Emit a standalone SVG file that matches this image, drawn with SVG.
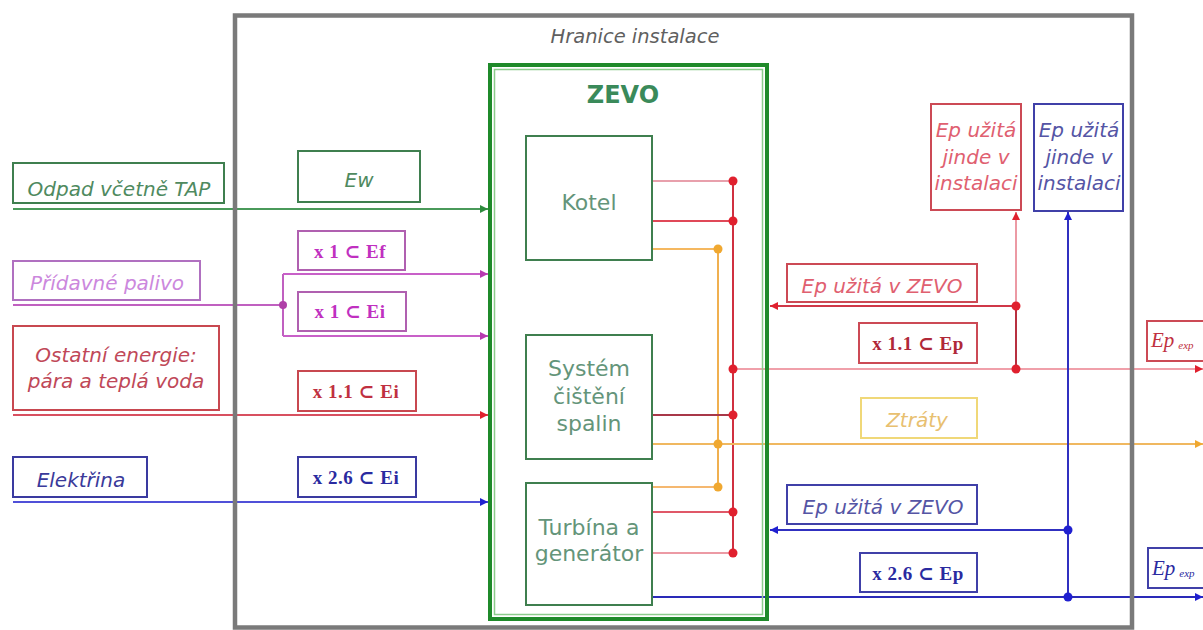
<svg xmlns="http://www.w3.org/2000/svg" width="1203" height="630" viewBox="0 0 1203 630">
<defs>
<marker id="aG" viewBox="0 0 10 10" refX="10" refY="5" markerWidth="9" markerHeight="8" markerUnits="userSpaceOnUse" orient="auto"><path d="M0,0 L10,5 L0,10 z" fill="#2e8b3e"/></marker>
<marker id="aM" viewBox="0 0 10 10" refX="10" refY="5" markerWidth="9" markerHeight="8" markerUnits="userSpaceOnUse" orient="auto"><path d="M0,0 L10,5 L0,10 z" fill="#b838b0"/></marker>
<marker id="aR" viewBox="0 0 10 10" refX="10" refY="5" markerWidth="9" markerHeight="8" markerUnits="userSpaceOnUse" orient="auto"><path d="M0,0 L10,5 L0,10 z" fill="#e0202e"/></marker>
<marker id="aB" viewBox="0 0 10 10" refX="10" refY="5" markerWidth="9" markerHeight="8" markerUnits="userSpaceOnUse" orient="auto"><path d="M0,0 L10,5 L0,10 z" fill="#2020d0"/></marker>
<marker id="aO" viewBox="0 0 10 10" refX="10" refY="5" markerWidth="9" markerHeight="8" markerUnits="userSpaceOnUse" orient="auto"><path d="M0,0 L10,5 L0,10 z" fill="#f0a830"/></marker>
</defs>
<style>
.box{fill:#fff;stroke-width:2}
.it{font-family:"DejaVu Sans",sans-serif;font-style:italic;font-size:20px;text-anchor:middle}
.sf{font-family:"Liberation Serif","DejaVu Serif",serif;font-weight:bold;font-size:19px;letter-spacing:0.5px;text-anchor:middle}
.lbl{font-family:"DejaVu Sans",sans-serif;font-size:22px;text-anchor:middle;fill:#64957a}
.ln{fill:none;stroke-width:2}
.ex{font-family:"Liberation Serif",serif;font-style:italic;font-size:21px}
.dR{fill:#e0202e}
.dO{fill:#f0a830}
.dB{fill:#2020d0}
</style>
<rect width="1203" height="630" fill="#fff"/>

<g id="connectors">
<path class="ln" d="M13,209 H488" stroke="#4a9a5a" marker-end="url(#aG)"/>
<path class="ln" d="M13,305 H283" stroke="#c060c0"/>
<path class="ln" d="M283,274 V336" stroke="#c060c0"/>
<path class="ln" d="M283,274 H488" stroke="#c860c8" marker-end="url(#aM)"/>
<path class="ln" d="M283,336 H488" stroke="#c860c8" marker-end="url(#aM)"/>
<path class="ln" d="M13,415 H488" stroke="#d85060" marker-end="url(#aR)"/>
<path class="ln" d="M13,502 H488" stroke="#5050d8" marker-end="url(#aB)"/>

<path class="ln" d="M652,181 H733" stroke="#e8a0ac" stroke-width="2.5"/>
<path class="ln" d="M652,221 H733" stroke="#e04858"/>
<path class="ln" d="M652,249 H718" stroke="#f5b860"/>
<path class="ln" d="M733,181 V553" stroke="#d03040"/>
<path class="ln" d="M718,249 V487" stroke="#f0b050"/>
<path class="ln" d="M733,369 H1203" stroke="#f0a0aa" stroke-width="2.5" marker-end="url(#aR)"/>
<path class="ln" d="M648,415 H733" stroke="#a83848"/>
<path class="ln" d="M652,444 H1203" stroke="#f0b860" marker-end="url(#aO)"/>
<path class="ln" d="M652,487 H718" stroke="#f5b870"/>
<path class="ln" d="M652,512 H733" stroke="#e05868"/>
<path class="ln" d="M652,553 H733" stroke="#ec9aa4"/>
<path class="ln" d="M650,597 H1203" stroke="#2a2ab8" marker-end="url(#aB)"/>
<path class="ln" d="M1016,306 H770" stroke="#d03848" marker-end="url(#aR)"/>
<path class="ln" d="M1016,369 V306" stroke="#b83040"/>
<path class="ln" d="M1016,306 V212" stroke="#ec9aa4" marker-end="url(#aR)"/>
<path class="ln" d="M1068,597 V212" stroke="#3030c0" marker-end="url(#aB)"/>
<path class="ln" d="M1068,530 H770" stroke="#3030c0" marker-end="url(#aB)"/>

<circle class="dR" cx="733" cy="181" r="4.5"/>
<circle class="dR" cx="733" cy="221" r="4.5"/>
<circle class="dR" cx="733" cy="369" r="4.5"/>
<circle class="dR" cx="733" cy="415" r="4.5"/>
<circle class="dR" cx="733" cy="512" r="4.5"/>
<circle class="dR" cx="733" cy="553" r="4.5"/>
<circle class="dR" cx="1016" cy="306" r="4.5"/>
<circle class="dR" cx="1016" cy="369" r="4.5"/>
<circle class="dO" cx="718" cy="249" r="4.5"/>
<circle class="dO" cx="718" cy="444" r="4.5"/>
<circle class="dO" cx="718" cy="487" r="4.5"/>
<circle class="dB" cx="1068" cy="530" r="4.5"/>
<circle class="dB" cx="1068" cy="597" r="4.5"/>
<circle cx="283" cy="305" r="4" fill="#b040a8"/>
</g>

<g id="hranice">
<rect x="235" y="15.5" width="897" height="612" fill="none" stroke="#7a7a7a" stroke-width="4.5"/>
<text x="635" y="43" font-family="DejaVu Sans, sans-serif" font-style="italic" font-size="19.5" fill="#606060" text-anchor="middle">Hranice instalace</text>
</g>

<g id="zevo">
<rect x="490" y="65" width="277" height="554" fill="none" stroke="#1f8a2a" stroke-width="4"/>
<rect x="494.5" y="69.5" width="268" height="545" fill="none" stroke="#8ccc8c" stroke-width="1.5"/>
<text x="623" y="103" font-family="DejaVu Sans, sans-serif" font-weight="bold" font-size="24" fill="#3a8a5a" text-anchor="middle">ZEVO</text>
</g>

<g id="kotel">
<rect class="box" x="526" y="136" width="126" height="124" stroke="#3f7f4f"/>
<text class="lbl" x="589" y="210">Kotel</text>
</g>
<g id="system">
<rect class="box" x="526" y="335" width="126" height="124" stroke="#3f7f4f"/>
<text class="lbl" x="589" y="376">Systém</text>
<text class="lbl" x="589" y="404">čištění</text>
<text class="lbl" x="589" y="431">spalin</text>
</g>
<g id="turbina">
<rect class="box" x="526" y="483" width="126" height="122" stroke="#3f7f4f"/>
<text class="lbl" x="589" y="535">Turbína a</text>
<text class="lbl" x="589" y="561">generátor</text>
</g>

<g id="odpad">
<rect class="box" x="13" y="163" width="211" height="40" stroke="#3f7f4f"/>
<text class="it" x="119" y="196" fill="#4f8a5f">Odpad včetně TAP</text>
</g>
<g id="ew">
<rect class="box" x="298" y="151" width="122" height="51" stroke="#3f7f4f"/>
<text class="it" x="359" y="187" fill="#4f8a5f">Ew</text>
</g>
<g id="ef">
<rect class="box" x="298" y="231" width="107" height="39" stroke="#b060b0"/>
<text class="sf" x="350" y="258" fill="#c030c0">x 1 ⊂ Ef</text>
</g>
<g id="palivo">
<rect class="box" x="13" y="261" width="187" height="39" stroke="#b070c0"/>
<text class="it" x="107" y="290" fill="#cc88dd">Přídavné palivo</text>
</g>
<g id="ei1">
<rect class="box" x="298" y="292" width="108" height="39" stroke="#b060b0"/>
<text class="sf" x="350" y="318" fill="#c030c0">x 1 ⊂ Ei</text>
</g>
<g id="ostatni">
<rect class="box" x="13" y="326" width="206" height="84" stroke="#c84850"/>
<text class="it" x="116" y="362" fill="#c04858">Ostatní energie:</text>
<text class="it" x="116" y="388" fill="#c04858">pára a teplá voda</text>
</g>
<g id="ei11">
<rect class="box" x="298" y="371" width="118" height="40" stroke="#c84850"/>
<text class="sf" x="356" y="398" fill="#c03040">x 1.1 ⊂ Ei</text>
</g>
<g id="elektrina">
<rect class="box" x="13" y="457" width="134" height="40" stroke="#3a3aa0"/>
<text class="it" x="81" y="487" fill="#3a3a9a">Elektřina</text>
</g>
<g id="ei26">
<rect class="box" x="298" y="457" width="118" height="40" stroke="#3a3aa0"/>
<text class="sf" x="356" y="484" fill="#2a2aa0">x 2.6 ⊂ Ei</text>
</g>

<g id="jinde_red">
<rect class="box" x="931" y="104" width="90" height="106" stroke="#cc4a55"/>
<text class="it" x="976" y="137" fill="#e06070">Ep užitá</text>
<text class="it" x="976" y="164" fill="#e06070">jinde v</text>
<text class="it" x="976" y="190" fill="#e06070">instalaci</text>
</g>
<g id="jinde_blue">
<rect class="box" x="1034" y="104" width="89" height="107" stroke="#4040a8"/>
<text class="it" x="1079" y="137" fill="#5555a5">Ep užitá</text>
<text class="it" x="1079" y="164" fill="#5555a5">jinde v</text>
<text class="it" x="1079" y="190" fill="#5555a5">instalaci</text>
</g>
<g id="ep_zevo_red">
<rect class="box" x="787" y="264" width="190" height="38" stroke="#cc4a55"/>
<text class="it" x="882" y="293" fill="#e06070">Ep užitá v ZEVO</text>
</g>
<g id="ep11">
<rect class="box" x="859" y="323" width="118" height="40" stroke="#cc4a55"/>
<text class="sf" x="918" y="350" fill="#b02838">x 1.1 ⊂ Ep</text>
</g>
<g id="ep_exp_red">
<rect class="box" x="1147" y="321" width="70" height="40" stroke="#cc4a55"/>
<text class="ex" x="1151" y="347" fill="#c03040">Ep<tspan font-size="11" dx="4" dy="2">exp</tspan></text>
</g>
<g id="ztraty">
<rect class="box" x="861" y="398" width="116" height="40" stroke="#f0d878"/>
<text class="it" x="917" y="427" fill="#e8c070">Ztráty</text>
</g>
<g id="ep_zevo_blue">
<rect class="box" x="787" y="485" width="190" height="39" stroke="#4040a8"/>
<text class="it" x="883" y="514" fill="#5555a5">Ep užitá v ZEVO</text>
</g>
<g id="ep26">
<rect class="box" x="860" y="553" width="117" height="39" stroke="#4040a8"/>
<text class="sf" x="918" y="580" fill="#2a2aa0">x 2.6 ⊂ Ep</text>
</g>
<g id="ep_exp_blue">
<rect class="box" x="1148" y="548" width="70" height="40" stroke="#4040a8"/>
<text class="ex" x="1152" y="575" fill="#2a2aa0">Ep<tspan font-size="11" dx="4" dy="2">exp</tspan></text>
</g>
</svg>
